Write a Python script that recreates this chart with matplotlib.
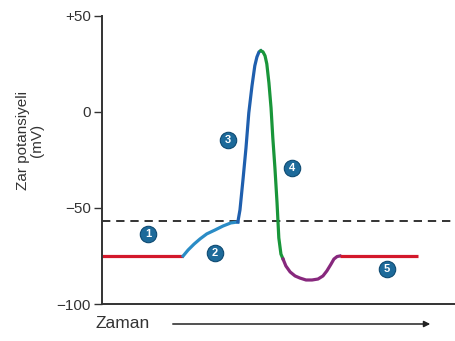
import matplotlib.pyplot as plt
from matplotlib.patches import FancyArrowPatch

# time axis in arbitrary units (0-100), membrane potential in mV
rest1_t = [0, 23.0]
rest1_v = [-75, -75]

depol_t = [23.0, 24.4, 26.1, 27.8, 29.7, 32.0, 34.3, 36.5, 38.5]
depol_v = [-75, -71.9, -68.8, -66.1, -63.5, -61.5, -59.4, -57.8, -57.3]

rise_t = [38.5, 39.1, 40.0, 40.8, 41.6, 42.5, 43.3, 43.9, 44.5, 45.0]
rise_v = [-57.3, -51.0, -34.4, -18.8, -0.5, 13.5, 24.0, 28.6, 31.3, 31.8]

fall_t = [45.0, 45.6, 46.2, 46.7, 47.3, 47.9, 48.4, 49.0, 49.6, 50.1, 50.7, 51.3]
fall_v = [31.8, 31.3, 29.2, 25.0, 15.1, 2.1, -13.5, -29.2, -47.4, -65.6, -74.0, -76.6]

hyper_t = [51.3, 52.1, 53.3, 54.7, 56.1, 57.8, 59.5, 61.2, 62.6, 63.7, 64.9, 65.7, 66.6, 67.4]
hyper_v = [-76.6, -80.2, -83.3, -85.4, -86.5, -87.5, -87.5, -87.0, -85.4, -82.8, -79.2, -76.6, -75.3, -75]

rest2_t = [67.4, 89.5]
rest2_v = [-75, -75]

threshold = -57
yticks = [50, 0, -50, -100]
yticklabels = ['+50', '0', '\u221250', '\u2212100']

step_labels = ['1', '2', '3', '4', '5']
step_pos = [(13.0, -63.5), (32.0, -73.4), (35.7, -14.6), (53.8, -29.2), (80.7, -81.8)]

plt.rcParams['font.family'] = ['Liberation Sans', 'DejaVu Sans']

fig = plt.figure(figsize=(4.55, 3.41), dpi=100)
ax = fig.add_axes([0.224, 0.1085, 0.776, 0.845])

lw = 2.3
ax.axhline(threshold, color='#111111', lw=1.2, ls=(0, (5, 3.5)))
ax.plot(rest1_t, rest1_v, color='#d3182b', lw=lw, solid_capstyle='butt')
ax.plot(depol_t, depol_v, color='#2a8cc6', lw=lw, solid_joinstyle='round')
ax.plot(rise_t, rise_v, color='#1f5fae', lw=lw, solid_joinstyle='round')
ax.plot(fall_t, fall_v, color='#19963a', lw=lw, solid_joinstyle='round')
ax.plot(hyper_t, hyper_v, color='#87287d', lw=lw, solid_joinstyle='round')
ax.plot(rest2_t, rest2_v, color='#d3182b', lw=lw, solid_capstyle='butt')

for lab, (t, v) in zip(step_labels, step_pos):
    ax.scatter(t, v, s=140, color='#1d6a9a', edgecolor='#0e4a72', lw=0.8, zorder=5)
    ax.text(t, v, lab, color='white', fontsize=8, fontweight='bold',
            ha='center', va='center', zorder=6)

ax.set_xlim(0, 100)
ax.set_ylim(-100, 50)
ax.set_xticks([])
ax.set_yticks(yticks)
ax.set_yticklabels(yticklabels, fontsize=11, color='#333333')
ax.tick_params(axis='y', length=6, width=1, color='#333333', pad=2)
for s in ['top', 'right']:
    ax.spines[s].set_visible(False)
for s in ['left', 'bottom']:
    ax.spines[s].set_linewidth(1.4)
    ax.spines[s].set_color('#333333')

fig.text(30 / 455, 1 - 140 / 341, 'Zar potansiyeli\n(mV)', rotation=90,
         ha='center', va='center', fontsize=11, color='#333333', linespacing=0.95)

fig.text(96 / 455, 1 - 324 / 341, 'Zaman', ha='left', va='center',
         fontsize=12.5, color='#333333')
fig.patches.append(FancyArrowPatch(
    (170 / 455, 1 - 324 / 341), (433 / 455, 1 - 324 / 341),
    transform=fig.transFigure, arrowstyle='-|>', mutation_scale=9,
    color='#222222', lw=1.1))

fig.savefig('out.png', dpi=100)
